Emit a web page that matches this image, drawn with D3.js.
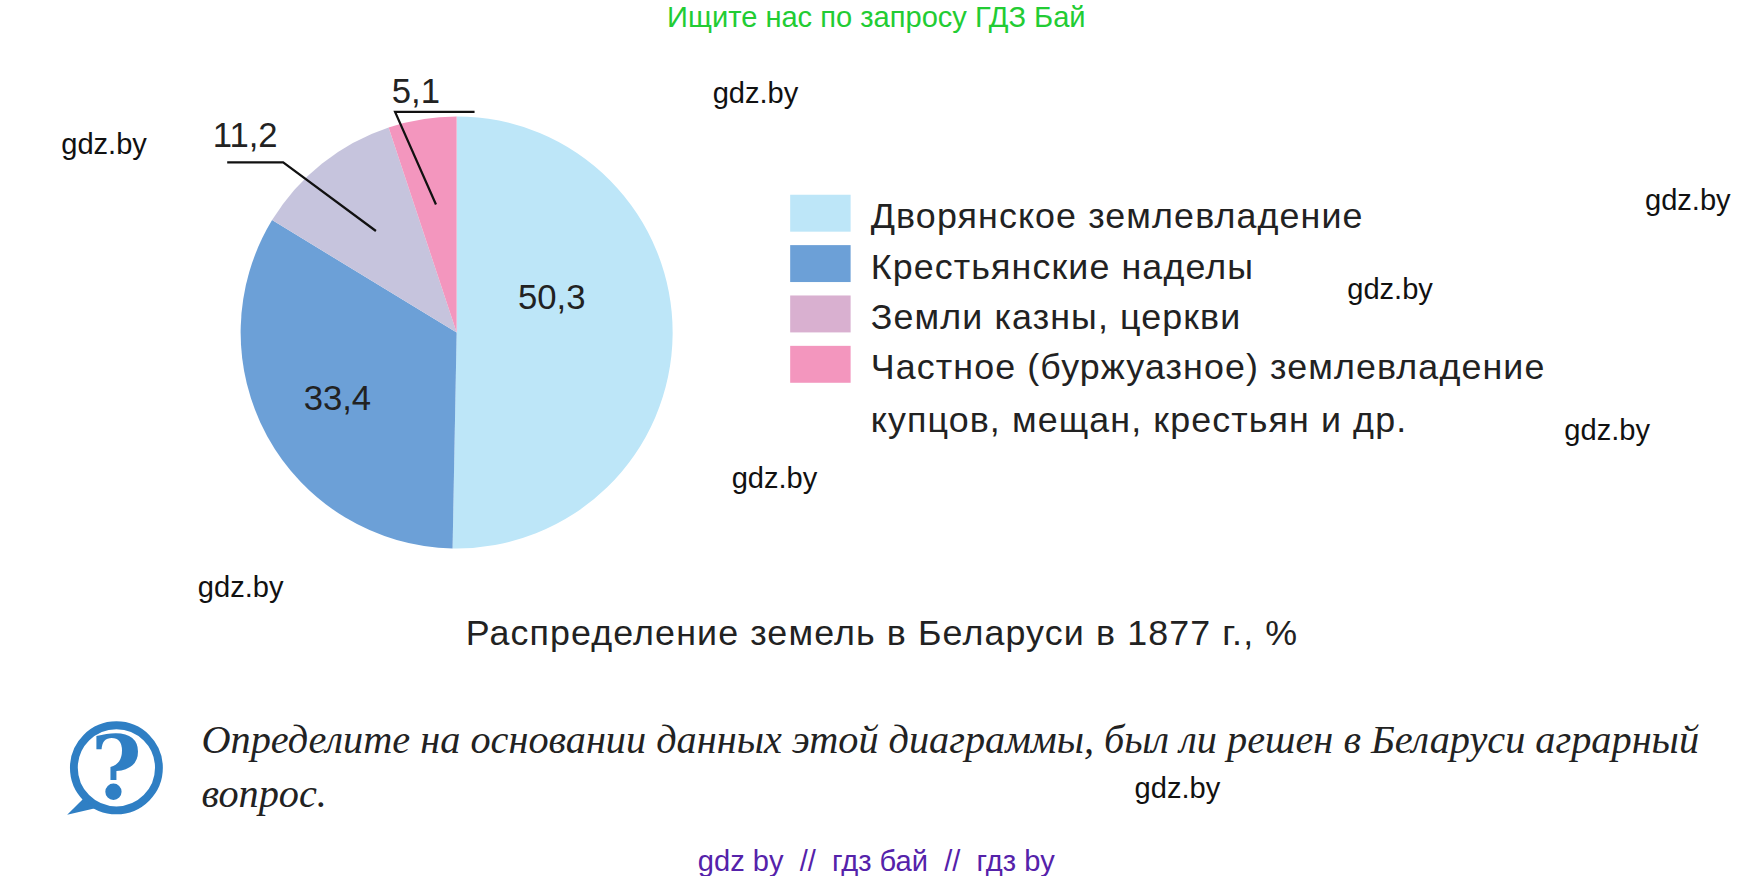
<!DOCTYPE html>
<html><head><meta charset="utf-8">
<script src="https://cdn.jsdelivr.net/npm/d3@7"></script>
<style>body{margin:0;background:#fff}</style>
</head><body><div id="wrapper"></div>
<script>
const categories = ['Дворянское землевладение', 'Крестьянские наделы', 'Земли казны, церкви', 'Частное (буржуазное) землевладение']
const values = [50.3, 33.4, 11.2, 5.1]
const labels = ['50,3', '33,4', '11,2', '5,1']
const sliceColors = ['#bde6f8', '#6ca0d7', '#c6c4dd', '#f396be']
const legendColors = ['#bde6f8', '#6ca0d7', '#d9b0d0', '#f396be']
const watermarks = [[675,92],[93,138],[1508,188],[1242,267],[1436,393],[692,436],[215,533],[1052,713]]

const svg = d3.select('#wrapper').append('svg').attr('width', 1746).attr('height', 876)
  .style('font-family', 'Liberation Sans, Arial, sans-serif')
// layout below is measured on a 1560px-wide grid
const root = svg.append('g').attr('transform', `scale(${1746 / 1560})`)

root.append('text').attr('x', 783).attr('y', 24).attr('text-anchor', 'middle')
  .attr('font-size', 26).attr('fill', '#22cc33').text('Ищите нас по запросу ГДЗ Бай')

const cx = 408, cy = 297, r = 193
const pie = d3.pie().sort(null).value(d => d)
const arcs = pie(values)
const arc = d3.arc().innerRadius(0).outerRadius(r)
const g = root.append('g').attr('transform', `translate(${cx},${cy})`)
g.selectAll('path').data(arcs).join('path').attr('d', arc).attr('fill', (d, i) => sliceColors[i])

// inside labels
const pt = (i, k) => d3.arc().innerRadius(r * k).outerRadius(r * k).centroid(arcs[i])
const l0 = pt(0, 0.44), l1 = pt(1, 0.63)
g.append('text').attr('x', l0[0]).attr('y', l0[1] - 33).attr('dy', '0.35em').attr('text-anchor', 'middle')
  .attr('font-size', 31).attr('fill', '#222').text(labels[0])
g.append('text').attr('x', l1[0]).attr('y', l1[1]).attr('dy', '0.35em').attr('text-anchor', 'middle')
  .attr('font-size', 31).attr('fill', '#222').text(labels[1])
// leader-line labels
const p2 = pt(2, 0.6), p3 = pt(3, 0.6)
g.append('path').attr('d', `M${p2[0]},${p2[1]}L${-155},${-152}L${-205},${-152}`)
  .attr('fill', 'none').attr('stroke', '#111').attr('stroke-width', 2)
g.append('text').attr('x', -218).attr('y', -166).attr('font-size', 31).attr('fill', '#222').text(labels[2])
g.append('path').attr('d', `M${p3[0]},${p3[1]}L${-55},${-197}L${16},${-197}`)
  .attr('fill', 'none').attr('stroke', '#111').attr('stroke-width', 2)
g.append('text').attr('x', -58).attr('y', -205).attr('font-size', 31).attr('fill', '#222').text(labels[3])

// legend
const leg = root.append('g').attr('transform', 'translate(706,174)')
const ly = d3.scaleBand().domain(d3.range(4)).range([0, 180]).paddingInner(0)
leg.selectAll('rect').data(categories).join('rect')
  .attr('x', 0).attr('y', (d, i) => ly(i)).attr('width', 54).attr('height', 33)
  .attr('fill', (d, i) => legendColors[i])
leg.selectAll('text.l').data(categories).join('text').attr('class', 'l')
  .attr('x', 72).attr('y', (d, i) => ly(i) + 30).attr('font-size', 32).attr('letter-spacing', 1)
  .attr('fill', '#222').text(d => d)
leg.append('text').attr('x', 72).attr('y', 212).attr('font-size', 32).attr('letter-spacing', 1)
  .attr('fill', '#222').text('купцов, мещан, крестьян и др.')

root.append('text').attr('x', 788).attr('y', 576).attr('text-anchor', 'middle')
  .attr('font-size', 32).attr('letter-spacing', 1).attr('fill', '#222')
  .text('Распределение земель в Беларуси в 1877 г., %')

// question icon
const ic = root.append('g').attr('transform', 'translate(104,686)')
ic.append('circle').attr('r', 38).attr('fill', 'none').attr('stroke', '#2f7fc4').attr('stroke-width', 7)
ic.append('path').attr('d', 'M-30,28 L-44,42 L-18,36Z').attr('fill', '#2f7fc4')
ic.append('text').attr('y', 28).attr('text-anchor', 'middle').attr('font-size', 78)
  .attr('font-weight', 'bold').attr('font-family', 'DejaVu Serif, serif').attr('fill', '#2f7fc4').text('?')

const q = root.append('text').attr('font-family', 'Liberation Serif, serif').attr('font-style', 'italic')
  .attr('font-size', 36).attr('fill', '#222')
q.append('tspan').attr('x', 180).attr('y', 673).text('Определите на основании данных этой диаграммы, был ли решен в Беларуси аграрный')
q.append('tspan').attr('x', 180).attr('y', 721).text('вопрос.')

watermarks.forEach(([x, y]) => root.append('text').attr('x', x).attr('y', y).attr('text-anchor', 'middle')
  .attr('font-size', 26).attr('fill', '#111').text('gdz.by'))

root.append('text').attr('x', 783).attr('y', 778).attr('text-anchor', 'middle')
  .attr('font-size', 26).attr('fill', '#5522aa').attr('xml:space', 'preserve')
  .text('gdz by  //  гдз бай  //  гдз by')
</script></body></html>
